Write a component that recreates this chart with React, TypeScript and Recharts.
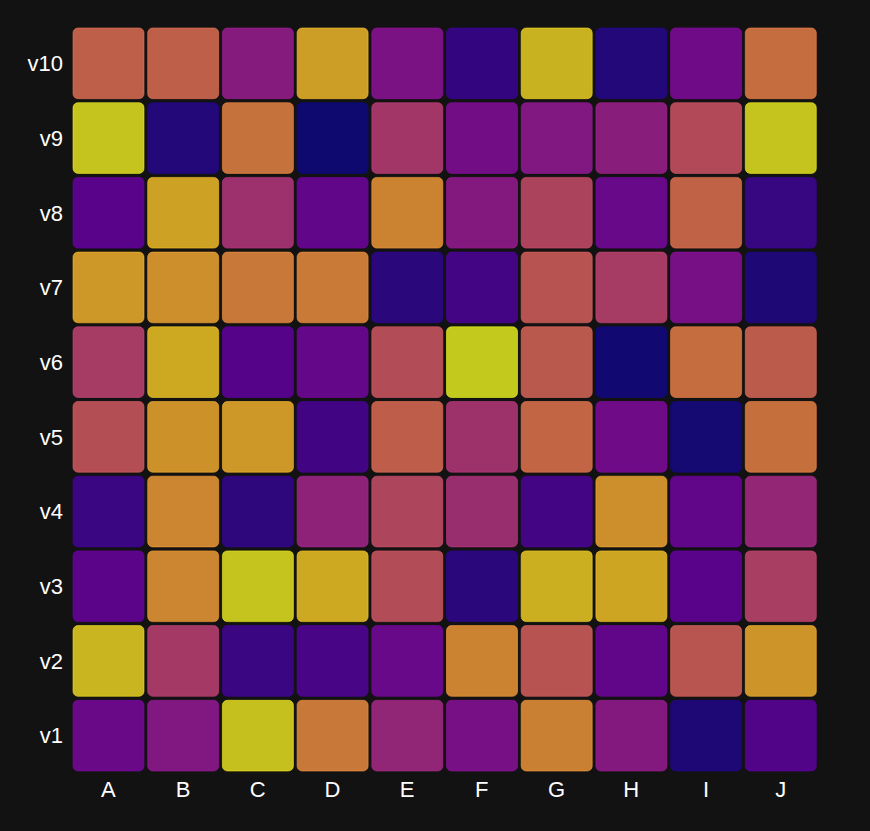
import React from 'react'
import { BarChart, Bar, XAxis, YAxis } from 'recharts'

// columns and row labels
const columns = ['A', 'B', 'C', 'D', 'E', 'F', 'G', 'H', 'I', 'J']
const rowLabels = ['v1', 'v2', 'v3', 'v4', 'v5', 'v6', 'v7', 'v8', 'v9', 'v10']

// heat values (0..1), one array per row, ordered A..J
const v1 = [0.26, 0.34, 0.97, 0.74, 0.4, 0.31, 0.77, 0.35, 0.04, 0.18]
const v2 = [0.94, 0.49, 0.11, 0.15, 0.25, 0.78, 0.6, 0.23, 0.61, 0.84]
const v3 = [0.21, 0.79, 0.98, 0.9, 0.57, 0.07, 0.92, 0.89, 0.2, 0.51]
const v4 = [0.11, 0.79, 0.08, 0.39, 0.54, 0.44, 0.14, 0.82, 0.23, 0.41]
const v5 = [0.58, 0.83, 0.85, 0.13, 0.64, 0.46, 0.67, 0.28, 0.02, 0.71]
const v6 = [0.5, 0.9, 0.19, 0.24, 0.57, 1.0, 0.62, 0.01, 0.7, 0.63]
const v7 = [0.85, 0.82, 0.74, 0.75, 0.07, 0.14, 0.6, 0.5, 0.31, 0.04]
const v8 = [0.2, 0.88, 0.45, 0.23, 0.78, 0.35, 0.53, 0.25, 0.66, 0.1]
const v9 = [0.98, 0.05, 0.72, 0.0, 0.48, 0.29, 0.34, 0.37, 0.56, 0.98]
const v10 = [0.65, 0.65, 0.36, 0.87, 0.32, 0.09, 0.93, 0.05, 0.28, 0.7]

const heat = [v1, v2, v3, v4, v5, v6, v7, v8, v9, v10]

// plasma colormap stops
const plasmaStops = [
  '#0d0887', '#41049d', '#6a00a8', '#8f0da4', '#b12a90', '#cc4778',
  '#e16462', '#f2844b', '#fca636', '#fcce25', '#f0f921',
]

const hexToRgb = (h: string) => [1, 3, 5].map((i) => parseInt(h.slice(i, i + 2), 16))

const plasma = (t: number) => {
  const v = Math.max(0, Math.min(1, t)) * (plasmaStops.length - 1)
  const i = Math.min(Math.floor(v), plasmaStops.length - 2)
  const f = v - i
  const a = hexToRgb(plasmaStops[i])
  const b = hexToRgb(plasmaStops[i + 1])
  const c = a.map((x, k) => Math.round(x + (b[k] - x) * f))
  return `rgb(${c[0]},${c[1]},${c[2]})`
}

// every slot is one unit tall, stacked into a 10x10 grid
const data = columns.map((name) => {
  const row: Record<string, number | string> = { name }
  rowLabels.forEach((r) => (row[r] = 1))
  return row
})

const makeCell = (r: number) => (props: any) => {
  const { x, y, width, height, payload } = props
  const idx = columns.indexOf(payload?.name)
  const color = plasma(heat[r][idx])
  return (
    <rect
      x={x + 2}
      y={y + 2}
      width={Math.max(0, width - 4)}
      height={Math.max(0, height - 4)}
      rx={5}
      ry={5}
      fill={color}
      fillOpacity={0.8}
      stroke={color}
      strokeOpacity={0.6}
      strokeWidth={1}
    />
  )
}

export default function App() {
  return (
    <div
      style={{
        position: 'absolute',
        left: 0,
        top: 0,
        width: 870,
        height: 831,
        background: '#121212',
        fontFamily: '"Liberation Sans", Arial, sans-serif',
      }}
    >
      <BarChart
        width={870}
        height={831}
        data={data}
        margin={{ top: 26, right: 52, bottom: 28, left: 0 }}
        barCategoryGap={0}
        barGap={0}
      >
        <XAxis
          dataKey="name"
          axisLine={false}
          tickLine={false}
          height={30}
          tick={{ fill: '#ffffff', fontSize: 22 }}
          interval={0}
        />
        <YAxis
          type="number"
          domain={[0, 10]}
          ticks={[0.5, 1.5, 2.5, 3.5, 4.5, 5.5, 6.5, 7.5, 8.5, 9.5]}
          tickFormatter={(t: number) => rowLabels[Math.floor(t)]}
          axisLine={false}
          tickLine={false}
          width={71}
          tick={{ fill: '#ffffff', fontSize: 22 }}
          interval={0}
        />
        {rowLabels.map((r, i) => (
          <Bar
            key={r}
            dataKey={r}
            stackId="grid"
            shape={makeCell(i)}
            isAnimationActive={false}
          />
        ))}
      </BarChart>
    </div>
  )
}
